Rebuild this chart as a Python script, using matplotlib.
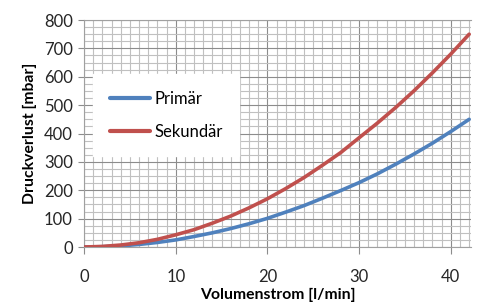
import matplotlib
matplotlib.use("Agg")
import matplotlib.pyplot as plt
from matplotlib.ticker import MultipleLocator

plt.rcParams['font.family'] = ['Lato', 'DejaVu Sans']

flow = [0, 2, 4, 6, 8, 10, 12, 14, 16, 18, 20, 22, 24, 26, 28, 30, 32, 34, 36, 38, 40, 42]
primaer = [0, 1, 4, 9, 16, 25, 37, 50, 65, 82, 101, 123, 146, 172, 199, 227, 258, 292, 328, 366, 407, 450]
sekundaer = [0, 2, 7, 15, 27, 43, 61, 84, 109, 138, 170, 206, 245, 288, 333, 385, 437, 492, 551, 614, 680, 750]

fig = plt.figure(figsize=(4.79, 3.06), dpi=100)
ax = fig.add_axes([0.1754, 0.1928, 0.9833 - 0.1754, 0.9346 - 0.1928])

ax.plot(flow, primaer, color='#4F81BD', lw=2.6, label='Primär', solid_capstyle='round', zorder=3)
ax.plot(flow, sekundaer, color='#C0504D', lw=2.6, label='Sekundär', solid_capstyle='round', zorder=3)

ax.set_xlim(0, 42.2)
ax.set_ylim(0, 800)
ax.xaxis.set_major_locator(MultipleLocator(10))
ax.xaxis.set_minor_locator(MultipleLocator(1))
ax.yaxis.set_major_locator(MultipleLocator(100))
ax.yaxis.set_minor_locator(MultipleLocator(25))
ax.grid(which='minor', color='#c0c0c0', lw=0.8)
ax.grid(which='major', color='#8c8c8c', lw=0.8)
ax.set_axisbelow(True)
for s in ax.spines.values():
    s.set_color('#a0a0a0')
    s.set_linewidth(0.8)
ax.spines['right'].set_visible(False)
ax.tick_params(which='minor', length=0)
ax.tick_params(axis='x', which='major', length=5, color='#8c8c8c', labelsize=12, colors='#262626', pad=11)
ax.tick_params(axis='y', which='major', length=4, color='#8c8c8c', labelsize=12, colors='#262626', pad=4)

ax.set_xlabel('Volumenstrom [l/min]', fontsize=11.3, fontweight='bold', labelpad=2)
ax.set_ylabel('Druckverlust [mbar]', fontsize=11.3, fontweight='bold', labelpad=5)

leg = ax.legend(loc='upper left', bbox_to_anchor=(0.024, 0.76), fontsize=12,
                frameon=True, fancybox=False, edgecolor='white', framealpha=1,
                handlelength=2.4, handletextpad=0.25, labelspacing=1.0,
                borderpad=1.0, borderaxespad=0)
for line in leg.get_lines():
    line.set_linewidth(3)

fig.savefig('out.png', dpi=100, facecolor='white')
